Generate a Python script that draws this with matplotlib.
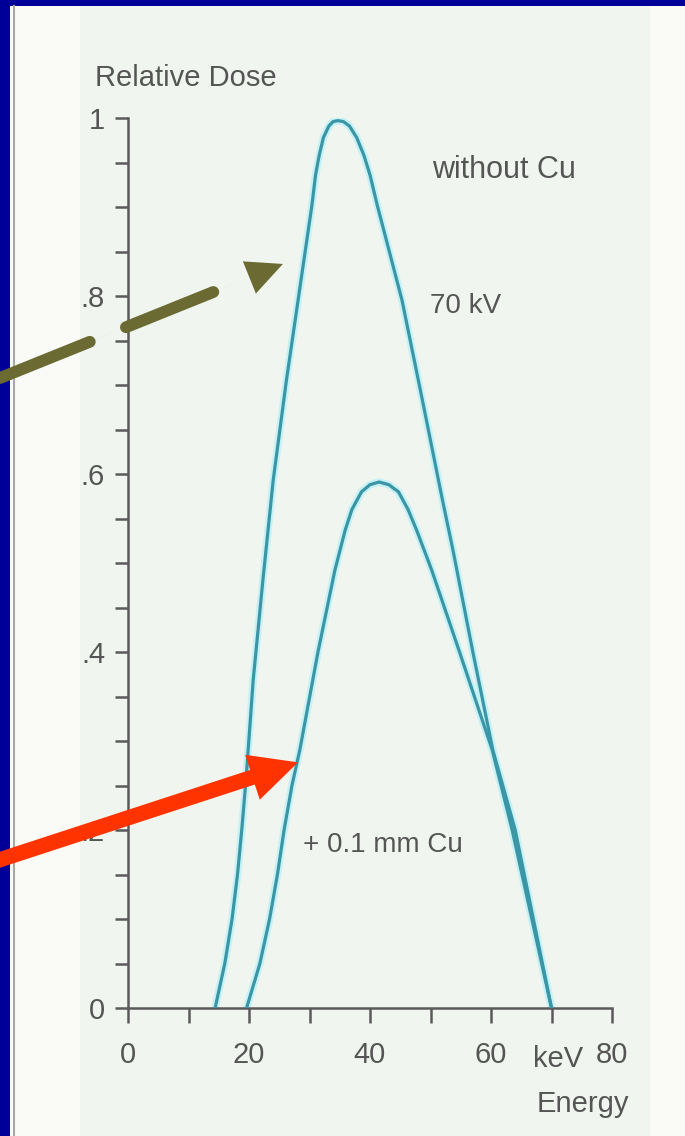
import numpy as np
import matplotlib
matplotlib.use("Agg")
import matplotlib.pyplot as plt
from matplotlib.patches import Rectangle
from matplotlib.lines import Line2D
from matplotlib.ticker import MultipleLocator

# spectra (keV, relative dose)
energy_no_cu = [14.4, 16.0, 17.2, 18.1, 18.8, 19.5, 20.7, 22.3, 24.0, 26.2, 28.6,
                30.4, 31.0, 31.6, 32.3, 33.2, 33.9, 34.7, 35.6, 36.6, 37.8, 39.0,
                40.0, 41.2, 45.3, 48.6, 52.0, 53.7, 57.0, 60.3, 64.0, 70.0]
dose_no_cu = [0.0, 0.05, 0.10, 0.15, 0.20, 0.256, 0.369, 0.481, 0.593, 0.706, 0.818,
              0.902, 0.936, 0.958, 0.978, 0.991, 0.996, 0.997, 0.996, 0.991, 0.978, 0.958,
              0.936, 0.902, 0.795, 0.685, 0.57, 0.515, 0.40, 0.29, 0.20, 0.0]

energy_cu = [19.6, 21.8, 23.4, 24.7, 25.8, 27.1, 28.4, 31.4, 34.2, 35.9, 37.0, 38.6,
             40.0, 41.5, 43.1, 44.7, 46.3, 47.7, 50.2, 54.8, 60.2, 63.5, 70.0]
dose_cu = [0.0, 0.05, 0.10, 0.15, 0.20, 0.25, 0.29, 0.40, 0.492, 0.537, 0.560, 0.580,
           0.588, 0.591, 0.588, 0.580, 0.560, 0.537, 0.492, 0.40, 0.29, 0.20, 0.0]

xtick_vals = [0, 20, 40, 60, 80]
xtick_labels = ['0', '20', '40', '60', '80']
ytick_vals = [0, 0.2, 0.4, 0.6, 0.8, 1.0]
ytick_labels = ['0', '.2', '.4', '.6', '.8', '1']

# arrow targets on the curves (data coords)
olive_tip = (25.6, 0.836)
red_tip = (28.1, 0.276)

plt.rcParams['font.family'] = ['Liberation Sans', 'DejaVu Sans']

W, H = 685, 1136
txt_col = '#555555'
curve_col = '#3A96A5'
blue = '#000099'
olive = '#6A6A32'
red = '#FF3300'

fig = plt.figure(figsize=(W / 100, H / 100), dpi=100, facecolor=blue)

# scanned page background
fig.add_artist(Rectangle((10 / W, 0), 1, (H - 6) / H, transform=fig.transFigure,
                         facecolor='#FAFBF6', edgecolor='none', zorder=-10))
fig.add_artist(Rectangle((80 / W, 0), (650 - 80) / W, (H - 6) / H, transform=fig.transFigure,
                         facecolor='#F0F6EF', edgecolor='none', zorder=-9))
fig.add_artist(Line2D([14 / W, 14 / W], [0, (H - 6) / H], transform=fig.transFigure,
                      color='#A8A8A8', lw=1.5, zorder=-8))

ax = fig.add_axes([128 / W, 128 / H, 484 / W, 890 / H])
ax.set_facecolor('none')

for e, d in [(energy_no_cu, dose_no_cu), (energy_cu, dose_cu)]:
    ax.plot(e, d, color='#C6F1F6', lw=5.5, solid_capstyle='round', solid_joinstyle='round', zorder=2)
    ax.plot(e, d, color=curve_col, lw=2.3, solid_capstyle='round', solid_joinstyle='round', zorder=3)

ax.set_xlim(0, 80)
ax.set_ylim(0, 1)
for s in ['top', 'right']:
    ax.spines[s].set_visible(False)
for s in ['left', 'bottom']:
    ax.spines[s].set_color('#5A5A5A')
    ax.spines[s].set_linewidth(1.8)

ax.set_xticks(xtick_vals)
ax.set_xticklabels(xtick_labels)
ax.set_yticks(ytick_vals)
ax.set_yticklabels(ytick_labels)
ax.xaxis.set_minor_locator(MultipleLocator(10))
ax.yaxis.set_minor_locator(MultipleLocator(0.05))
ax.tick_params(axis='x', which='both', direction='out', length=11, width=1.8,
               color='#5A5A5A', labelsize=21, labelcolor=txt_col, pad=13)
ax.tick_params(axis='y', which='both', direction='out', length=9.5, width=1.8,
               color='#5A5A5A', labelsize=21, labelcolor=txt_col, pad=7)

ax.text(-5.45, 1.036, 'Relative Dose', fontsize=21, color=txt_col, ha='left', va='baseline')
ax.text(50.2, 0.933, 'without Cu', fontsize=22, color=txt_col, ha='left', va='baseline')
ax.text(49.9, 0.781, '70 kV', fontsize=20, color=txt_col, ha='left', va='baseline')
ax.text(28.9, 0.175, '+ 0.1 mm Cu', fontsize=20, color=txt_col, ha='left', va='baseline')
ax.text(66.9, -0.066, 'keV', fontsize=21, color=txt_col, ha='left', va='baseline', clip_on=False)
ax.text(82.8, -0.117, 'Energy', fontsize=21, color=txt_col, ha='right', va='baseline', clip_on=False)

# olive dashed arrow: dashed shaft, then solid head
olive_start = (0, H - 378)
ax.annotate('', xy=olive_tip, xycoords='data', xytext=olive_start, textcoords='figure pixels',
            arrowprops=dict(arrowstyle='-', lw=8.5, color=olive, linestyle=(0, (8.2, 3.3)),
                            shrinkA=0, shrinkB=54), zorder=10)
ax.annotate('', xy=olive_tip, xycoords='data', xytext=olive_start, textcoords='figure pixels',
            arrowprops=dict(arrowstyle='simple,head_length=26,head_width=25,tail_width=0.01',
                            mutation_scale=1, color=olive, lw=0, shrinkA=0, shrinkB=0), zorder=10)

# red solid arrow
red_start = (-4, H - 861)
ax.annotate('', xy=red_tip, xycoords='data', xytext=red_start, textcoords='figure pixels',
            arrowprops=dict(arrowstyle='simple,head_length=34.5,head_width=34,tail_width=11',
                            mutation_scale=1, color=red, lw=0, shrinkA=0, shrinkB=0), zorder=10)

fig.savefig('out.png', dpi=100, facecolor=fig.get_facecolor())
